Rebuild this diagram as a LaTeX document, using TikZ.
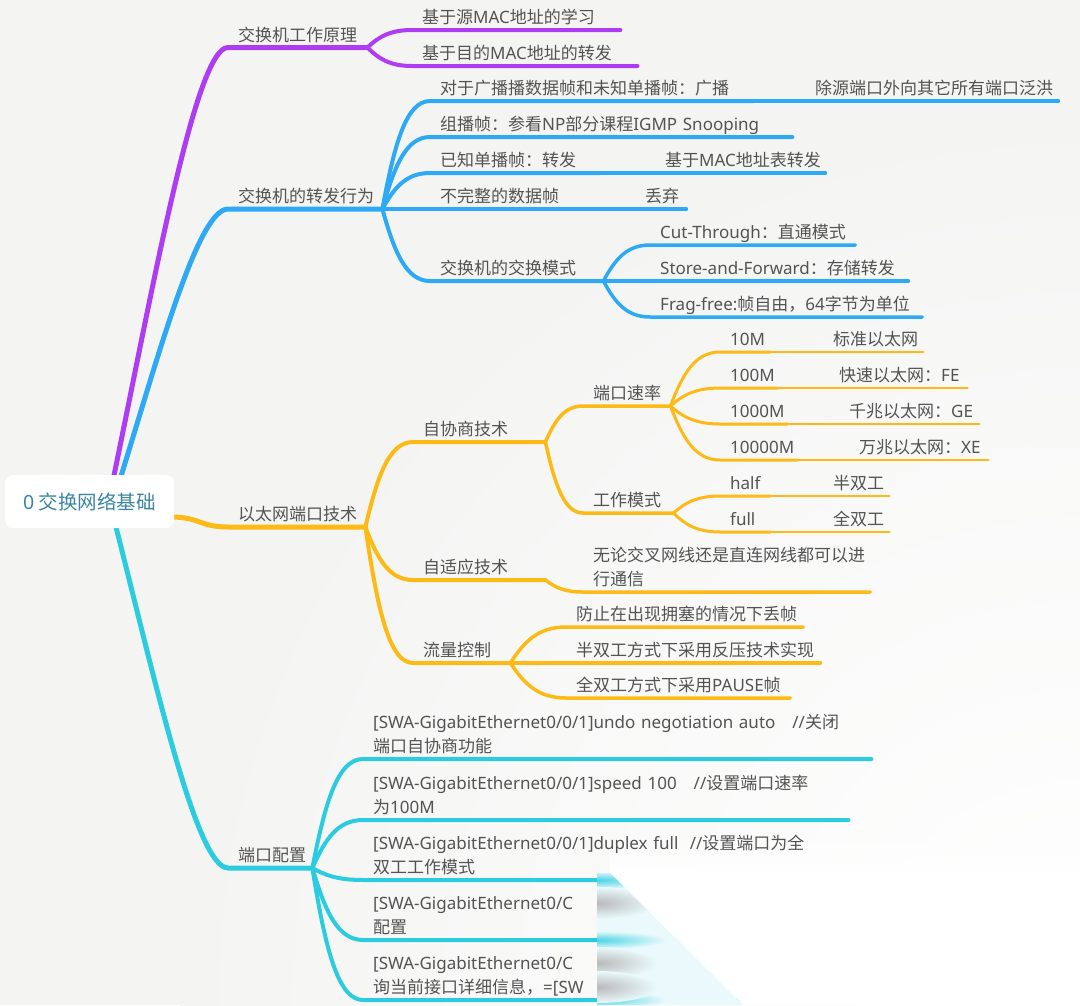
\documentclass[tikz,border=0pt]{standalone}
\usepackage{fontspec}
\setmainfont{Noto Sans CJK SC}
\newfontfamily\latfont{Noto Sans}
\newcommand\EN[1]{\mbox{\latfont #1}}
\usetikzlibrary{calc,fadings}
\definecolor{bgc}{HTML}{F4F5F3}
\definecolor{txt}{HTML}{535353}
\definecolor{roottxt}{HTML}{3A85A2}
\definecolor{cpur}{HTML}{AD3CF2}
\definecolor{cblu}{HTML}{2EA9F5}
\definecolor{corg}{HTML}{FDBA17}
\definecolor{ccya}{HTML}{2CCCE0}
\colorlet{foldc}{ccya!10!white}
\pgfdeclarelayer{bgl}
\pgfdeclarelayer{lines}
\pgfsetlayers{bgl,lines,main}
\tikzset{
  lk/.style n args={3}{to path={let \p1=(\tikztostart),\p2=(\tikztotarget) in .. controls ({\x1+#1*(\x2-\x1)},{\y1+#2*(\y2-\y1)}) and ({\x1+#3*(\x2-\x1)},{\y2}) .. (\tikztotarget)}},
  rootlk/.style={lk={0.35}{0.45}{0.72}},
  sublk/.style={lk={0.25}{0.6}{0.5}},
  topic/.style={anchor=south west, inner xsep=10pt, inner ysep=2pt, text depth=4pt, align=left, text=txt, font=\fontsize{17}{24}\selectfont, text width=#1},
  twoline/.style={text depth=28pt},
  rootbox/.style={fill=white, rounded corners=8pt, minimum width=169pt, minimum height=53pt, inner sep=0pt, text=roottxt, font=\fontsize{19.5}{24}\selectfont},
  wA/.style={line width=5pt, line cap=round},
  wB/.style={line width=4pt, line cap=round},
  wC/.style={line width=3.5pt, line cap=round},
  wD/.style={line width=3pt, line cap=round},
  wE/.style={line width=2.5pt, line cap=round},
}
\begin{document}
\begin{tikzpicture}[x=1pt,y=-1pt]
\begin{pgfonlayer}{bgl}
\fill[bgc] (0,0) rectangle (1080,1005);
\begin{scope}
\clip (0,0) rectangle (1080,1005);
\shade[inner color=white, outer color=bgc] (1080,1005) circle (900);
\end{scope}
\fill[white, path fading=north] (610,830) rectangle (1080,874);
\end{pgfonlayer}
\useasboundingbox (0,0) rectangle (1080,1005);

% root
\node[rootbox] (root) at (89.5,501.5) {\EN{0} 交换网络基础};

% level 1
\node[topic=119pt] (A1) at (228,47.5) {交换机工作原理};
\node[topic=134pt] (A2) at (228,209) {交换机的转发行为};
\node[topic=117pt] (A3) at (228,527) {以太网端口技术};
\node[topic=64pt]  (A4) at (228,868) {端口配置};

% purple branch
\node[topic=188pt] (B1) at (412,30) {基于源\EN{MAC}地址的学习};
\node[topic=205pt] (B2) at (412,66) {基于目的\EN{MAC}地址的转发};

% blue branch
\node[topic=303pt] (C1) at (430,101) {对于广播播数据帧和未知单播帧：广播};
\node[topic=233pt] (C1a) at (805,101) {除源端口外向其它所有端口泛洪};
\node[topic=342pt] (C2) at (430,137) {组播帧：参看\EN{NP}部分课程\EN{IGMP Snooping}};
\node[topic=150pt] (C3) at (430,173) {已知单播帧：转发};
\node[topic=150pt] (C3a) at (655,173) {基于\EN{MAC}地址表转发};
\node[topic=132pt] (C4) at (430,209) {不完整的数据帧};
\node[topic=31pt]  (C4a) at (635,209) {丢弃};
\node[topic=153pt] (C5) at (430,281) {交换机的交换模式};
\node[topic=185pt] (D1) at (650,245) {\EN{Cut-Through}：直通模式};
\node[topic=238pt] (D2) at (650,281) {\EN{Store-and-Forward}：存储转发};
\node[topic=252pt] (D3) at (650,317) {\EN{Frag-free:}帧自由，\EN{64}字节为单位};

% orange branch
\node[topic=112pt] (E1) at (413,442) {自协商技术};
\node[topic=67pt]  (F1) at (583,406) {端口速率};
\node[topic=30pt]  (G1) at (720,352) {\EN{10M}};
\node[topic=80pt]  (G1a) at (823,352) {标准以太网};
\node[topic=37pt]  (G2) at (720,388) {\EN{100M}};
\node[topic=118pt] (G2a) at (829,388) {快速以太网：\EN{FE}};
\node[topic=47pt]  (G3) at (720,424) {\EN{1000M}};
\node[topic=120pt] (G3a) at (839,424) {千兆以太网：\EN{GE}};
\node[topic=57pt]  (G4) at (720,460) {\EN{10000M}};
\node[topic=119pt] (G4a) at (849,460) {万兆以太网：\EN{XE}};
\node[topic=70pt]  (F2) at (583,513) {工作模式};
\node[topic=30pt]  (H1) at (720,496) {\EN{half}};
\node[topic=46pt]  (H1a) at (823,496) {半双工};
\node[topic=30pt]  (H2) at (720,532) {\EN{full}};
\node[topic=46pt]  (H2a) at (823,532) {全双工};
\node[topic=112pt] (E2) at (413,580) {自适应技术};
\node[topic=267pt,twoline] (I1) at (583,592) {无论交叉网线还是直连网线都可以进\\行通信};
\node[topic=77pt]  (E3) at (413,663) {流量控制};
\node[topic=217pt] (J1) at (566,627) {防止在出现拥塞的情况下丢帧};
\node[topic=234pt] (J2) at (566,663) {半双工方式下采用反压技术实现};
\node[topic=204pt] (J3) at (566,698) {全双工方式下采用\EN{PAUSE}帧};

% cyan branch
\node[topic=488pt,twoline] (K1) at (363,759) {\EN{[SWA-GigabitEthernet0/0/1]undo negotiation auto\ \ \ //}关闭\\端口自协商功能};
\node[topic=465pt,twoline] (K2) at (363,820) {\EN{[SWA-GigabitEthernet0/0/1]speed 100\ \ \ //}设置端口速率\\为\EN{100M}};
\node[topic=480pt,twoline] (K3) at (363,880) {\EN{[SWA-GigabitEthernet0/0/1]duplex full\ \ //}设置端口为全\\双工工作模式};
\node[topic=480pt,twoline] (K4) at (363,940) {\EN{[SWA-GigabitEthernet0/C}\\配置};
\node[topic=480pt,twoline] (K5) at (363,1000) {\EN{[SWA-GigabitEthernet0/C}\\询当前接口详细信息，\EN{=[SW}};

\begin{pgfonlayer}{lines}
% root connectors
\draw[wA,cpur] ($(root.north)+(24,3)$) to[rootlk] (A1.south west) -- (A1.south east);
\draw[wA,cblu] ($(root.north)+(31,3)$) to[rootlk] (A2.south west) -- (A2.south east);
\draw[wA,corg] ($(root.east)+(-3,15.5)$) to[lk={0.5}{0}{0.5}] (A3.south west) -- (A3.south east);
\draw[wA,ccya] ($(root.south)+(26,-3)$) to[rootlk] (A4.south west) -- (A4.south east);
% purple
\foreach \c in {B1,B2}
  \draw[wB,cpur] (A1.south east) to[sublk] (\c.south west) -- (\c.south east);
% blue
\foreach \c in {C1,C2,C3,C4,C5}
  \draw[wB,cblu] (A2.south east) to[sublk] (\c.south west) -- (\c.south east);
\draw[wC,cblu] (C1.south east) -- (C1a.south west) -- (C1a.south east);
\draw[wC,cblu] (C3.south east) -- (C3a.south west) -- (C3a.south east);
\draw[wC,cblu] (C4.south east) -- (C4a.south west) -- (C4a.south east);
\foreach \c in {D1,D2,D3}
  \draw[wC,cblu] (C5.south east) to[sublk] (\c.south west) -- (\c.south east);
% orange
\foreach \c in {E1,E2,E3}
  \draw[wB,corg] (A3.south east) to[sublk] (\c.south west) -- (\c.south east);
\foreach \c in {F1,F2}
  \draw[wC,corg] (E1.south east) to[sublk] (\c.south west) -- (\c.south east);
\foreach \c in {G1,G2,G3,G4}
  \draw[wD,corg] (F1.south east) to[sublk] (\c.south west) -- (\c.south east);
\foreach \c in {G1,G2,G3,G4}
  \draw[wE,corg] (\c.south east) -- (\c a.south west) -- (\c a.south east);
\foreach \c in {H1,H2}
  \draw[wD,corg] (F2.south east) to[sublk] (\c.south west) -- (\c.south east);
\foreach \c in {H1,H2}
  \draw[wE,corg] (\c.south east) -- (\c a.south west) -- (\c a.south east);
\draw[wC,corg] (E2.south east) to[sublk] (I1.south west) -- (I1.south east);
\foreach \c in {J1,J2,J3}
  \draw[wC,corg] (E3.south east) to[sublk] (\c.south west) -- (\c.south east);
% cyan
\foreach \c in {K1,K2,K3,K4,K5}
  \draw[wB,ccya] (A4.south east) to[sublk] (\c.south west) -- (\c.south east);
\end{pgfonlayer}

% page curl covering the lower right corner
\fill[white] (610,873) -- (1080,873) -- (1080,1005) -- (743,1005) -- cycle;
\begin{scope}
\clip (597,873) -- (610,873) -- (743,1005) -- (597,1005) -- cycle;
\fill[foldc] (590,870) rectangle (750,1005);
\foreach \yy in {880,940,1000}
  \shade[inner color=ccya!85, outer color=foldc] (597,\yy) ellipse (70 and 9);
\foreach \yy in {903,963,987}
  \shade[inner color=gray!55, outer color=foldc] (597,\yy) ellipse (60 and 16);
\end{scope}
\end{tikzpicture}
\end{document}
